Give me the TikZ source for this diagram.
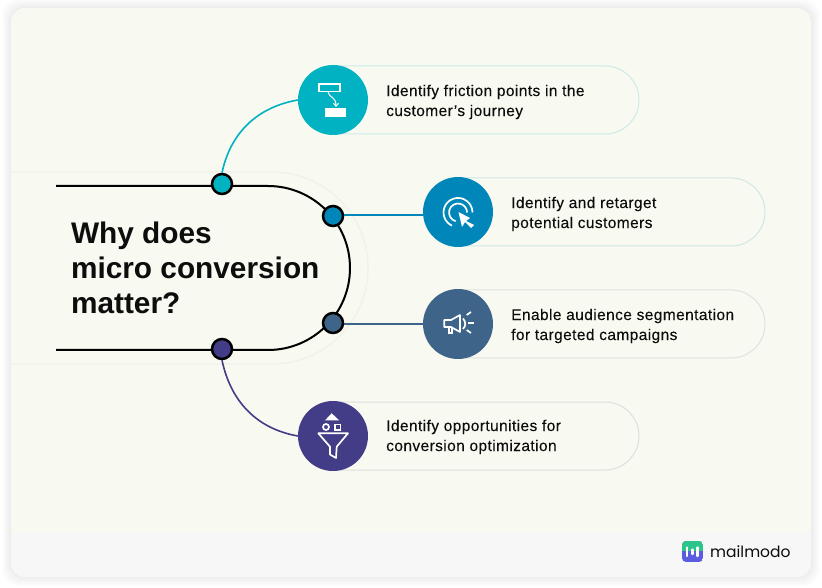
\documentclass[tikz,border=0pt]{standalone}
\usepackage{fontspec}
\setmainfont{Liberation Sans}
\newfontfamily\labelfont[LetterSpace=2.6,FakeBold=0.12]{Liberation Sans}
\newfontfamily\logofont{Poppins}
\usetikzlibrary{arrows.meta}
\definecolor{cardbg}{HTML}{F8F9F0}
\definecolor{bandbg}{HTML}{F7F7F7}
\definecolor{faintline}{HTML}{F0F2E6}
\definecolor{inktext}{HTML}{0D0D0D}
\definecolor{tealc}{HTML}{00B2C2}
\definecolor{bluec}{HTML}{0086B8}
\definecolor{slatec}{HTML}{3F6489}
\definecolor{purplec}{HTML}{423D86}
\definecolor{logogreen}{HTML}{2BC48A}
\definecolor{logopurple}{HTML}{5C5CE0}
\tikzset{
  joint/.style={circle,draw=black,line width=2.5pt,minimum size=20pt,inner sep=0pt},
  badge/.style={circle,minimum size=70pt,inner sep=0pt},
  pill/.style={rectangle,rounded corners=34pt,minimum height=68pt,line width=1pt},
  label/.style={anchor=west,align=left,text=inktext,font=\labelfont\fontsize{15.5}{20}\selectfont},
  link/.style={line width=1.6pt},
  icon/.style={white,line width=1.7pt}
}
\begin{document}
\begin{tikzpicture}[x=1pt,y=1pt]
\useasboundingbox (0,0) rectangle (822,587);
% card
\foreach \i in {1,2,...,9} {
  \fill[black,opacity=0.006,rounded corners=16pt] (11-\i,10-\i) rectangle (811+\i,579+\i);
}
\begin{scope}
\clip[rounded corners=14pt] (11,10) rectangle (811,579);
\fill[cardbg] (11,10) rectangle (811,579);
\fill[bandbg] (11,10) rectangle (811,55);
\end{scope}
% curves
\draw[faintline,line width=1.2pt] (11,415)--(272,415) arc (90:-90:96)--(11,223);
\draw[black,line width=2pt] (56,401)--(268,401) arc (90:-90:82)--(56,237);
\node[anchor=west,align=left,text=inktext,font=\fontsize{29.8}{35}\selectfont\bfseries] (title) at (67.5,319.5) {Why does\\micro conversion\\matter?};
% pills
\node[pill,minimum width=340pt,draw=tealc!18!cardbg] (pillA) at (469,487) {};
\node[pill,minimum width=341pt,draw=bluec!16!cardbg] (pillB) at (594.5,375) {};
\node[pill,minimum width=341pt,draw=slatec!14!cardbg] (pillC) at (594.5,263) {};
\node[pill,minimum width=340pt,draw=purplec!14!cardbg] (pillD) at (469,151) {};
\node[badge,fill=tealc] (badgeA) at (333,487) {};
\node[badge,fill=bluec] (badgeB) at (458,375) {};
\node[badge,fill=slatec] (badgeC) at (458,263) {};
\node[badge,fill=purplec] (badgeD) at (333,151) {};
\node[joint,fill=tealc] (jointA) at (222,403) {};
\node[joint,fill=bluec] (jointB) at (333,371) {};
\node[joint,fill=slatec] (jointC) at (333,264) {};
\node[joint,fill=purplec] (jointD) at (222,238) {};
\draw[link,tealc] (jointA.north) to[out=78,in=190] (badgeA.west);
\draw[link,bluec] ([yshift=1pt]jointB.east)--([yshift=1pt]badgeB.west |- jointB);
\draw[link,slatec] ([yshift=-1pt]jointC.east)--([yshift=-1pt]badgeC.west |- jointC);
\draw[link,purplec] (jointD.south) to[out=-78,in=170] (badgeD.west);
\node[label] (textA) at (382.7,485) {Identify friction points in the\\customer’s journey};
\node[label] (textB) at (507.7,373) {Identify and retarget\\potential customers};
\node[label] (textC) at (507.7,261) {Enable audience segmentation\\for targeted campaigns};
\node[label] (textD) at (382.7,150) {Identify opportunities for\\conversion optimization};
% icon flow
\begin{scope}[shift={(badgeA)}]
\draw[icon] (-14,16) rectangle (7,8.5);
\fill[white] (-8,-8) rectangle (13,-17);
\draw[icon,line width=1pt,-{Straight Barb[length=3pt,width=5pt]}] (-5,8) .. controls (-4,2) and (3,4) .. (3,-7);
\end{scope}
% icon target
\begin{scope}[shift={(badgeB)}]
\draw[icon] (-6.1,-13.6) arc (245:0:14.5);
\draw[icon] (-2.3,-9.2) arc (255:0:9);
\fill[white] (0.5,0)--(12,-6)--(8,-9)--(16,-13)--(13,-16)--(7,-10)--(4,-15)--cycle;
\end{scope}
% icon megaphone
\begin{scope}[shift={(badgeC)}]
\draw[icon,line join=round] (-13.7,4)--(-7,4)--(2,9)--(2,-8)--(-7,-3)--(-13.7,-3)--cycle;
\draw[icon] (-9,-3)--(-9,-9)--(-6,-9)--(-6,-3);
\draw[icon] (5,5.5) .. controls (8,2) and (8,-2) .. (5,-5);
\draw[icon] (8.7,9)--(13,12);
\draw[icon] (10,1.3)--(16,1.3);
\draw[icon] (8.7,-6)--(13,-9);
\end{scope}
% icon funnel
\begin{scope}[shift={(badgeD)}]
\draw[icon,fill=white] (-1.3,21.5)--(-6,16.5)--(4,16.5)--cycle;
\draw[icon] (-7,9) circle (3);
\draw[icon] (2,6)rectangle (7.6,11.6);
\draw[icon,line join=round] (-14.7,2.7)--(15,2.7)--(3.7,-10.7)--(3,-22)--(-3,-18.5)--(-3,-10.7)--cycle;
\end{scope}
% logo
\begin{scope}
\clip[rounded corners=4pt] (682,25) rectangle (703,46);
\fill[logopurple] (682,25) rectangle (703,46);
\fill[logogreen] (682,36) rectangle (703,46);
\end{scope}
\foreach \bx/\bt/\bb in {687/39.5/31,692.3/37.5/33,697.5/39.5/31} {
  \draw[white,line width=2.4pt,line cap=round] (\bx,\bb)--(\bx,\bt);
}
\node[anchor=west,inner sep=0pt,text=inktext,font=\logofont\fontsize{15.5}{20}\selectfont] (logotext) at (710,35) {mailmodo};
\end{tikzpicture}
\end{document}
